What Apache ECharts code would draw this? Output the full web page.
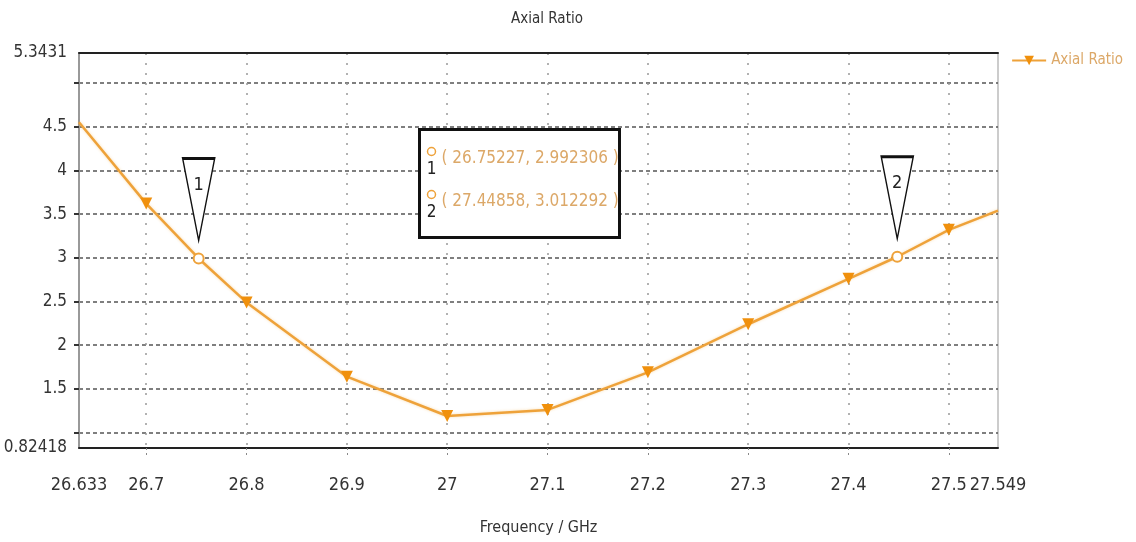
<!DOCTYPE html>
<html>
<head>
<meta charset="utf-8">
<title>Axial Ratio</title>
<script src="https://cdn.jsdelivr.net/npm/echarts@6/dist/echarts.min.js"></script>
<style>
  html, body { margin: 0; padding: 0; background: #fff; }
  #chart { width: 1136px; height: 542px; }
</style>
</head>
<body>
<div id="chart"></div>
<script>
// values
const freq = [26.633, 26.7, 26.75227, 26.8, 26.9, 27.0, 27.1, 27.2, 27.3, 27.4, 27.44858, 27.5, 27.549]
const axialRatio = [4.55, 3.62, 2.992306, 2.49, 1.64, 1.19, 1.26, 1.69, 2.24, 2.76, 3.012292, 3.32, 3.54]
// marker points (1, 2)
const markerX = [26.75227, 27.44858]
const markerY = [2.992306, 3.012292]
// ticks
const xTicks = [26.7, 26.8, 26.9, 27.0, 27.1, 27.2, 27.3, 27.4, 27.5]
const xLabels = [26.633, 26.7, 26.8, 26.9, 27.0, 27.1, 27.2, 27.3, 27.4, 27.5, 27.549]
const yTicks = [1, 1.5, 2, 2.5, 3, 3.5, 4, 4.5, 5]
const yLabels = [0.82418, 1.5, 2, 2.5, 3, 3.5, 4, 4.5, 5.3431]
const xMin = 26.633, xMax = 27.549
const yMin = 0.82418, yMax = 5.3431

const FONT = '"DejaVu Sans Condensed", "Liberation Sans Narrow", sans-serif'
const ORANGE = '#eea23a'
const TEXT_ORANGE = '#dca868'

let chart = echarts.init(document.getElementById('chart'))

// 点数据：标记点用空心圆，两端不画符号
let seriesData = freq.map((x, i) => {
  let item = { value: [x, axialRatio[i]] }
  if (markerX.indexOf(x) >= 0) {
    item.symbol = 'emptyCircle'
    item.symbolSize = 10
    item.itemStyle = { color: ORANGE, borderWidth: 1.5 }
  } else if (x === xMin || x === xMax) {
    item.symbol = 'none'
  }
  return item
})

let markPoints = markerX.map((x, i) => ({
  coord: [x, markerY[i]],
  label: { show: true, formatter: String(i + 1) }
}))

// 标注框里的文字
let boxChildren = [{
  type: 'rect',
  z: 100,
  shape: { x: 0, y: 0, width: 200, height: 108 },
  style: { fill: '#fff', stroke: '#111', lineWidth: 3 }
}]
markerX.forEach((x, i) => {
  let dy = i * 43
  boxChildren.push({
    type: 'circle',
    z: 101,
    shape: { cx: 12, cy: 22 + dy, r: 4 },
    style: { fill: '#fff', stroke: ORANGE, lineWidth: 1.5 }
  }, {
    type: 'text',
    z: 101,
    x: 12, y: 40 + dy,
    style: { text: String(i + 1), fontFamily: FONT, fontSize: 17, fill: '#222', align: 'center', verticalAlign: 'middle' }
  }, {
    type: 'text',
    z: 101,
    x: 22, y: 29 + dy,
    style: {
      text: '( ' + x + ', ' + markerY[i] + ' )',
      fontFamily: FONT, fontSize: 17, fill: TEXT_ORANGE, verticalAlign: 'middle'
    }
  })
})

let option = {
  backgroundColor: '#fff',
  animation: false,
  title: {
    text: 'Axial Ratio',
    left: 542, top: 7,
    textAlign: 'center',
    textStyle: { fontFamily: FONT, fontSize: 15, fontWeight: 'normal', color: '#333' }
  },
  legend: {
    right: 8, top: 48,
    itemWidth: 34, itemHeight: 12, itemGap: 6,
    textStyle: { fontFamily: FONT, fontSize: 15, color: TEXT_ORANGE }
  },
  grid: {
    left: 79, right: 138, top: 53, bottom: 94,
    outerBoundsMode: 'none',
    show: true, borderColor: '#999', borderWidth: 1
  },
  xAxis: [{
    type: 'value',
    min: xMin, max: xMax,
    name: 'Frequency / GHz',
    nameLocation: 'middle',
    nameGap: 72,
    nameTextStyle: { fontFamily: FONT, fontSize: 16, color: '#333' },
    axisLine: { lineStyle: { color: '#222', width: 2 } },
    axisTick: {
      customValues: xTicks, length: 8, inside: false,
      lineStyle: { color: '#888', type: [2, 3] }
    },
    axisLabel: {
      customValues: xLabels, margin: 28,
      fontFamily: FONT, fontSize: 18, color: '#333',
      formatter: v => String(v)
    },
    splitLine: { show: true, lineStyle: { color: '#999', width: 1.5, type: [2, 8] } }
  }, {
    type: 'value', position: 'top',
    min: xMin, max: xMax,
    axisLine: { show: true, lineStyle: { color: '#222', width: 2 } },
    axisTick: { show: false }, axisLabel: { show: false }, splitLine: { show: false }
  }],
  yAxis: {
    type: 'value',
    min: yMin, max: yMax,
    axisLine: { show: true, lineStyle: { color: '#999', width: 2 } },
    axisTick: { show: true, customValues: yTicks, length: 5, lineStyle: { color: '#333', width: 2 } },
    axisLabel: {
      customValues: yLabels, margin: 12,
      fontFamily: FONT, fontSize: 17, color: '#333',
      formatter: v => String(v)
    },
    splitLine: { show: true, lineStyle: { color: '#555', width: 1.5, type: [4, 3] } }
  },
  series: [{
    name: 'Axial Ratio',
    type: 'line',
    data: seriesData,
    symbol: 'triangle',
    symbolRotate: 180,
    symbolSize: 12,
    itemStyle: { color: '#f0900c' },
    lineStyle: { color: ORANGE, width: 2.5, shadowColor: 'rgba(240,170,60,0.4)', shadowBlur: 3 },
    markPoint: {
      symbol: 'path://M0,0 L32,0 L16,82 Z',
      symbolSize: [32, 82],
      symbolOffset: [0, -59],
      itemStyle: { color: '#fff', borderColor: '#111', borderWidth: 2 },
      label: {
        position: 'inside', offset: [0, -14],
        fontFamily: FONT, fontSize: 18, color: '#222'
      },
      data: markPoints
    },
    z: 5
  }],
  graphic: [{
    type: 'group',
    left: 418, top: 128,
    z: 100,
    children: boxChildren
  }]
}

chart.setOption(option)
</script>
</body>
</html>
